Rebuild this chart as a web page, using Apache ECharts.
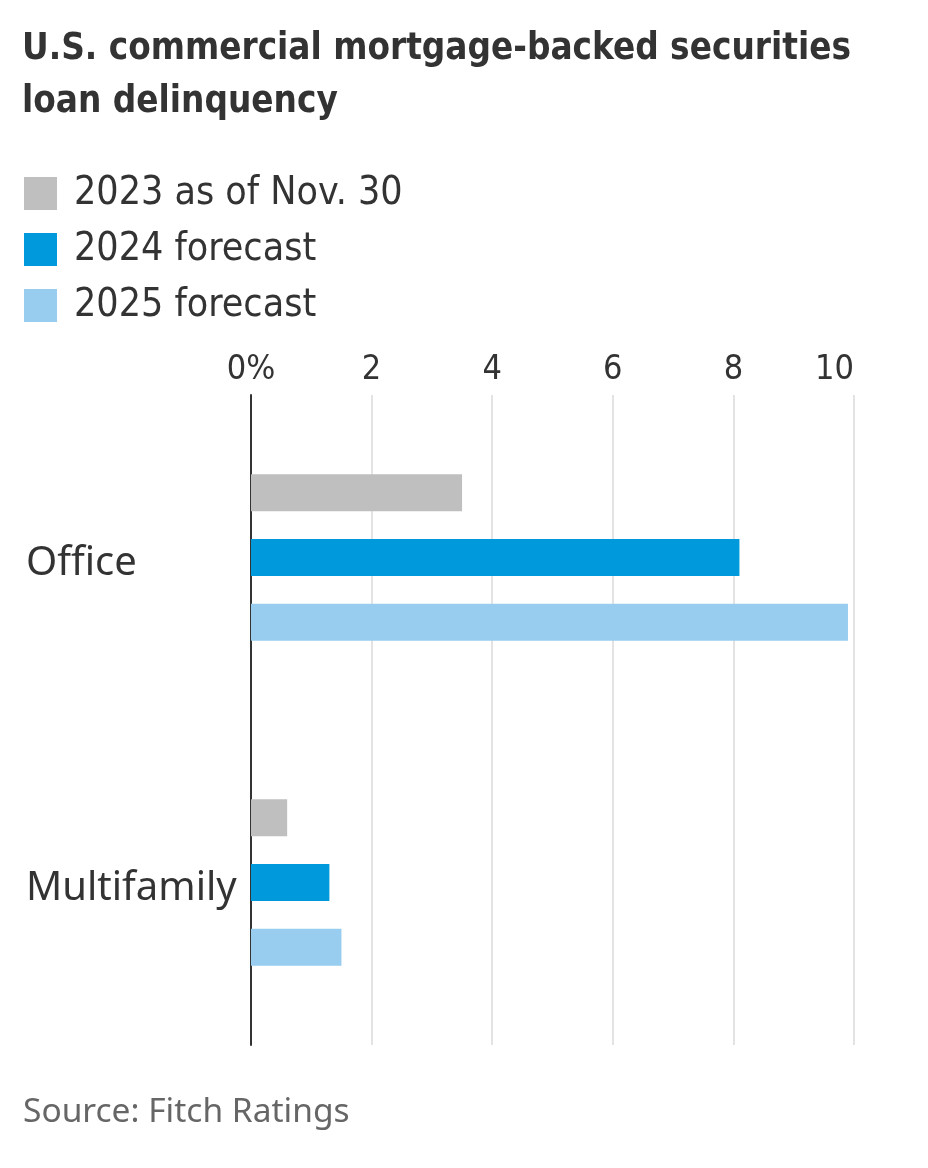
<!DOCTYPE html>
<html>
<head>
<meta charset="utf-8">
<script src="https://cdn.jsdelivr.net/npm/echarts@6/dist/echarts.min.js"></script>
<style>
html,body{margin:0;padding:0;background:#fff;}
#c{width:928px;height:1168px;}
</style>
</head>
<body>
<div id="c"></div>
<script>
const categories = ['Office', 'Multifamily'];
const seriesNames = ['2023 as of Nov. 30', '2024 forecast', '2025 forecast'];
const values2023 = [3.5, 0.6];
const values2024 = [8.1, 1.3];
const values2025 = [9.9, 1.5];
const tickLabels = ['0%', '2', '4', '6', '8', '10'];
const colors = ['#bfbfbf', '#0099dc', '#99cdef'];

const narrow = "'Liberation Sans Narrow', 'DejaVu Sans Condensed', 'Roboto', sans-serif";
const regular = "'Noto Sans', 'Open Sans', sans-serif";

const chart = echarts.init(document.getElementById('c'), null, {renderer: 'canvas'});
const data = [values2023, values2024, values2025];
chart.setOption({
  animation: false,
  backgroundColor: '#fff',
  title: [{
    text: 'U.S. commercial mortgage-backed securities\nloan delinquency',
    left: 17, top: 18,
    textStyle: {fontFamily: narrow, fontWeight: 'bold', fontSize: 36.5, lineHeight: 53, color: '#333'}
  }, {
    text: 'Source: Fitch Ratings',
    left: 18, top: 1090,
    textStyle: {fontFamily: regular, fontWeight: 'normal', fontSize: 33.5, color: '#666'}
  }],
  legend: {
    orient: 'vertical', left: 24, top: 174, padding: 0,
    itemWidth: 33, itemHeight: 33, itemGap: 17,
    icon: 'rect',
    data: seriesNames,
    textStyle: {fontFamily: narrow, fontSize: 39, color: '#333', padding: [0, 0, 0, 12]}
  },
  grid: {left: 251, right: 74, top: 395, bottom: 123, containLabel: false},
  xAxis: {
    type: 'value', position: 'top', min: 0, max: 10, interval: 2,
    axisLine: {show: false}, axisTick: {show: false},
    splitLine: {lineStyle: {color: '#e3e3e3', width: 2}},
    axisLabel: {
      fontFamily: narrow, fontSize: 34, color: '#333', margin: 8,
      alignMaxLabel: 'right',
      formatter: (v) => tickLabels[Math.round(v / 2)]
    }
  },
  yAxis: {
    type: 'category', data: categories, inverse: true,
    axisLine: {show: true, lineStyle: {color: '#333', width: 2}},
    axisTick: {show: false},
    axisLabel: {
      fontFamily: regular, fontSize: 40, color: '#333', align: 'left', margin: 225,
      formatter: (v) => '{a|' + v + '}',
      rich: {a: {fontFamily: regular, fontSize: 40, color: '#333', padding: [12, 0, 0, 0]}}
    }
  },
  series: seriesNames.map((n, i) => ({
    name: n, type: 'bar', data: data[i],
    itemStyle: {color: colors[i]},
    barWidth: 37, barGap: '75%', barCategoryGap: '48%'
  }))
});
</script>
</body>
</html>
